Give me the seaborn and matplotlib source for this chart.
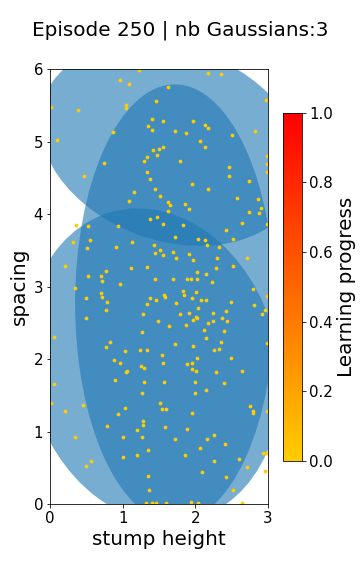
import numpy as np
import pandas as pd
import matplotlib
matplotlib.use("Agg")
import matplotlib.pyplot as plt
import matplotlib.colors as mcolors
from matplotlib.patches import Ellipse
import seaborn as sns

# sampled tasks (stump height, spacing)
stump_height = [
    1.23, 2.17, 2.35, 0.96, 1.09, 1.62, 1.46, 2.98, 0.02, 0.38, 1.05, 1.05, 1.40, 1.56, 1.97,
    2.14, 2.18, 1.35, 1.41, 0.87, 1.72, 1.87, 2.82, 2.50, 0.09, 2.06, 2.14, 1.55, 1.50, 1.42,
    1.47, 1.33, 1.29, 1.79, 0.74, 2.99, 2.99, 2.99, 2.47, 2.46, 1.34, 1.38, 0.47, 1.96, 2.74,
    1.45, 2.18, 1.15, 1.52, 2.58, 2.87, 1.09, 1.62, 1.65, 1.86, 1.92, 2.90,
    2.74, 2.88, 1.63, 1.38, 1.48, 1.55, 1.83, 2.65, 2.99, 0.36, 0.52, 0.94, 2.42, 1.72, 2.04,
    2.13, 2.16, 2.52, 0.55, 0.32, 1.13, 1.43, 0.91, 0.51, 2.33, 1.52, 1.45, 1.69, 1.92, 1.55,
    1.74, 2.30, 2.71, 1.97, 0.21, 1.34, 1.12, 2.28, 2.52, 0.77, 2.03, 2.15, 0.52, 0.70, 0.72,
    1.44, 1.69, 1.88, 1.94, 2.02, 2.23, 0.96, 0.35, 2.79, 1.83, 2.01, 0.70, 1.57, 1.84, 2.99,
    0.50, 0.72, 1.37, 1.46, 1.59, 1.96, 2.08, 2.15, 2.49, 0.78, 1.33, 1.73, 2.81, 2.04, 0.77,
    1.92, 2.25, 2.43, 2.96, 1.28, 1.79, 2.92, 0.50, 2.01, 2.03, 1.97, 1.49, 2.18, 2.25, 2.37,
    2.44, 1.64, 1.87, 0.05, 2.12, 2.40, 1.27, 2.15, 1.72, 2.36, 2.99, 0.83, 0.77, 1.97, 2.26,
    2.33, 1.24, 1.33,
    1.03, 1.54, 2.03, 2.49, 0.88, 0.96, 1.55, 1.89, 1.96, 1.25, 1.29, 1.96, 2.01, 2.65, 1.05,
    1.06, 2.28, 0.06, 0.90, 1.29, 1.57, 2.00, 2.40, 2.15, 1.26, 1.99, 0.01, 1.52, 0.46, 1.03,
    1.54, 1.60, 2.75, 2.80, 2.79, 2.99, 0.21, 1.96, 0.93, 1.28, 1.28, 0.79, 1.58, 1.89, 1.20,
    1.27, 1.00, 0.34, 1.72, 2.16, 2.26, 2.41, 1.35, 2.07, 2.93, 2.97, 1.01, 1.20, 1.86, 2.26,
    2.60, 0.57, 0.50, 2.71, 2.96, 2.09, 1.35, 2.43, 1.36, 2.52, 1.32, 1.41, 1.46, 1.60, 1.94,
    2.04, 2.64,
]
spacing = [
    5.99, 5.94, 5.93, 5.85, 5.80, 5.75, 5.56, 5.57, 5.48, 5.43, 5.50, 5.46, 5.31, 5.29, 5.29,
    5.23, 5.19, 5.22, 5.16, 5.13, 5.15, 5.12, 5.14, 5.09, 5.02, 5.01, 4.92, 4.93, 4.90, 4.88,
    4.81, 4.79, 4.73, 4.73, 4.70, 4.80, 4.69, 4.58, 4.65, 4.53, 4.58, 4.49, 4.53, 4.42, 4.46,
    4.34, 4.34, 4.31, 4.25, 4.22, 4.21, 4.18, 4.16, 4.12, 4.14, 4.07, 4.08,
    4.03, 4.02, 4.04, 3.93, 3.96, 3.87, 3.85, 3.88, 3.86, 3.85, 3.84, 3.83, 3.78, 3.69, 3.66,
    3.64, 3.57, 3.66, 3.64, 3.61, 3.61, 3.57, 3.55, 3.53, 3.54, 3.50, 3.46, 3.48, 3.45, 3.43,
    3.39, 3.39, 3.40, 3.37, 3.29, 3.27, 3.26, 3.26, 3.28, 3.22, 3.20, 3.18, 3.14, 3.14, 3.08,
    3.10, 3.10, 3.10, 3.10, 3.10, 3.06, 3.04, 2.98, 2.97, 2.94, 2.92, 2.91, 2.89, 2.88, 2.87,
    2.84, 2.85, 2.84, 2.82, 2.85, 2.84, 2.82, 2.82, 2.79, 2.79, 2.76, 2.77, 2.74, 2.70, 2.67,
    2.64, 2.64, 2.66, 2.67, 2.62, 2.62, 2.62, 2.57, 2.58, 2.56, 2.54, 2.53, 2.50, 2.53, 2.56,
    2.52, 2.45, 2.47, 2.30, 2.40, 2.39, 2.37, 2.29, 2.21, 2.24, 2.22, 2.23, 2.16, 2.18, 2.13,
    2.14, 2.12, 2.13,
    2.11, 2.06, 2.02, 2.02, 1.98, 1.94, 1.95, 1.93, 1.95, 1.91, 1.88, 1.86, 1.84, 1.84, 1.82,
    1.83, 1.82, 1.66, 1.71, 1.68, 1.68, 1.68, 1.67, 1.57, 1.53, 1.53, 1.40, 1.40, 1.37, 1.32,
    1.31, 1.31, 1.35, 1.29, 1.25, 1.29, 1.29, 1.26, 1.24, 1.14, 1.09, 1.08, 1.06, 1.04, 1.02,
    0.92, 0.93, 0.92, 0.89, 0.90, 0.95, 0.83, 0.74, 0.77, 0.71, 0.71, 0.65, 0.67, 0.67, 0.60,
    0.62, 0.60, 0.53, 0.51, 0.45, 0.44, 0.39, 0.37, 0.19, 0.19, 0.02, 0.01, 0.01, 0.01, 0.03,
    0.01, 0.01,
]

# gaussians of the GMM (2-std ellipses)
gauss_cx = [1.67, 1.72, 1.42]
gauss_cy = [4.965, 2.77, 1.91]
gauss_width = [3.73, 2.75, 3.44]
gauss_height = [2.66, 6.04, 4.39]
gauss_angle = [-20.0, 0.0, 14.5]

df = pd.DataFrame({'stump height': stump_height, 'spacing': spacing})

# autumn_r, truncated (gold -> red)
base = plt.cm.autumn_r
cmap = mcolors.LinearSegmentedColormap.from_list('trunc_autumn', base(np.linspace(0.2, 1.0, 100)))

fig = plt.figure(figsize=(5, 8), dpi=72)
ax = fig.add_axes([0.139, 0.125, 0.605, 0.755])

for cx, cy, w, h, a in zip(gauss_cx, gauss_cy, gauss_width, gauss_height, gauss_angle):
    ax.add_patch(Ellipse((cx, cy), w, h, angle=a, color='#1f77b4', alpha=0.6, lw=0, zorder=1))

sns.scatterplot(data=df, x='stump height', y='spacing', color=cmap(0.0), s=14, linewidth=0, zorder=2, ax=ax)

ax.set_xlim(0, 3)
ax.set_ylim(0, 6)
ax.set_xticks([0, 1, 2, 3])
ax.set_xlabel('stump height', fontsize=20)
ax.set_ylabel('spacing', fontsize=20)
ax.tick_params(labelsize=15)

cax = fig.add_axes([0.786, 0.2, 0.053, 0.604])
sm = plt.cm.ScalarMappable(cmap=cmap, norm=mcolors.Normalize(0, 1))
cb = fig.colorbar(sm, cax=cax)
cb.set_ticks([0.0, 0.2, 0.4, 0.6, 0.8, 1.0])
cb.ax.tick_params(labelsize=15)
cb.set_label('Learning progress', fontsize=20)

fig.suptitle('Episode 250 | nb Gaussians:3', fontsize=20, y=0.965)

fig.savefig('out.png', dpi=72)
